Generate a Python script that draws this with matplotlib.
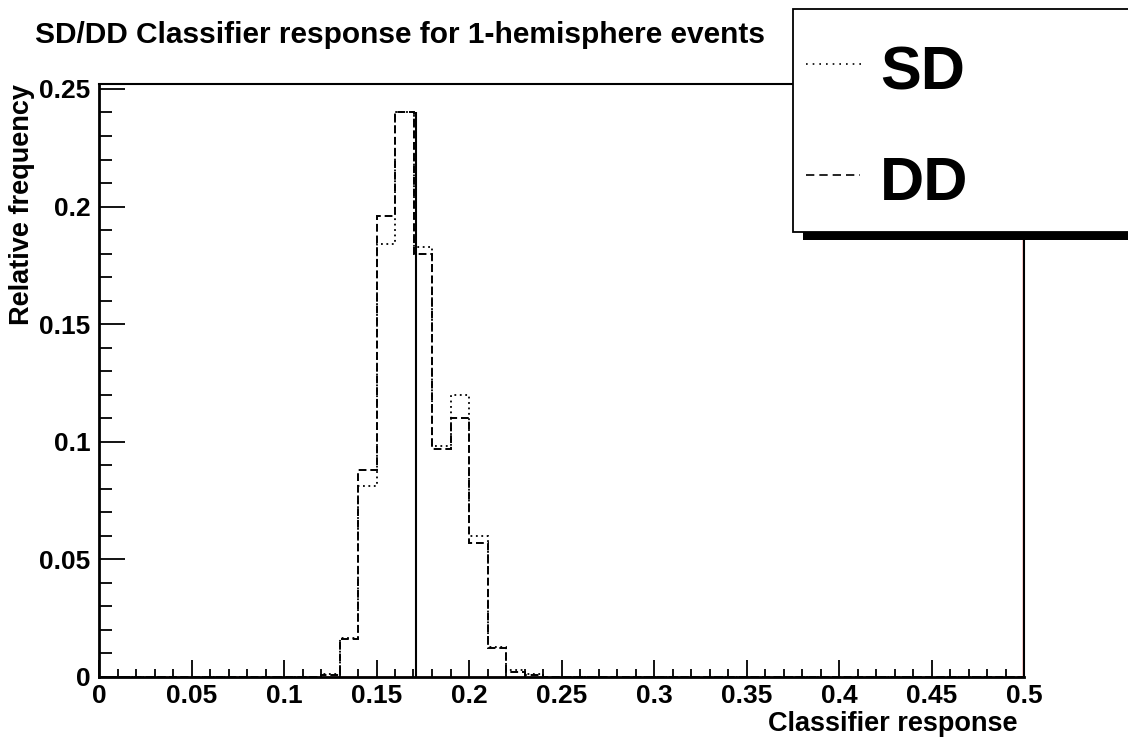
import numpy as np
import matplotlib
matplotlib.use("Agg")
import matplotlib.pyplot as plt
import matplotlib.transforms as mtransforms
from matplotlib.patches import Rectangle
from matplotlib.lines import Line2D
from matplotlib.ticker import MultipleLocator, FuncFormatter

plt.rcParams['font.family'] = ['Liberation Sans', 'DejaVu Sans']
plt.rcParams['font.weight'] = 'bold'

# histogram: 50 bins over [0, 0.5], only bins 0.12 .. 0.24 are filled
n_bins = 50
x_range = (0.0, 0.5)
first_bin = 12
sd_vals = [0.0012, 0.0166, 0.081, 0.184, 0.240, 0.183, 0.098, 0.120, 0.060, 0.0128, 0.0028, 0.0012]
dd_vals = [0.0008, 0.0160, 0.088, 0.196, 0.240, 0.180, 0.097, 0.110, 0.057, 0.0123, 0.0022, 0.0010]
cut_value = 0.1714
cut_height = 0.240
x_ticks = [0, 0.05, 0.1, 0.15, 0.2, 0.25, 0.3, 0.35, 0.4, 0.45, 0.5]
y_ticks = [0, 0.05, 0.1, 0.15, 0.2, 0.25]

edges = np.linspace(x_range[0], x_range[1], n_bins + 1)
sd = np.zeros(n_bins)
dd = np.zeros(n_bins)
sd[first_bin:first_bin + len(sd_vals)] = sd_vals
dd[first_bin:first_bin + len(dd_vals)] = dd_vals

fig = plt.figure(figsize=(11.28, 7.4), dpi=100)
ax = fig.add_axes([99/1128, 63/740, 925/1128, 593/740])

# red empty histogram frame (as in the original canvas)
ax.stairs(np.zeros(n_bins), edges, color='red', lw=1.0, zorder=1)
shift = mtransforms.offset_copy(ax.transData, fig=fig, x=-1.5, y=0, units='dots')
ax.plot([x_range[1], x_range[1]], [0, 0.2521], color='red', lw=1.0, transform=shift, zorder=1)

ax.stairs(sd, edges, color='black', lw=1.3, linestyle=(0, (1, 2)), zorder=3)
ax.stairs(dd, edges, color='black', lw=1.4, linestyle=(0, (4, 2)), zorder=3)
ax.vlines(cut_value, 0, cut_height, color='black', lw=1.5, zorder=4)

ax.set_xlim(*x_range)
ax.set_ylim(0, 0.2521)
ax.set_xticks(x_ticks)
ax.set_yticks(y_ticks)
ax.xaxis.set_minor_locator(MultipleLocator(0.01))
ax.yaxis.set_minor_locator(MultipleLocator(0.01))
fmt = FuncFormatter(lambda v, p: '%g' % v)
ax.xaxis.set_major_formatter(fmt)
ax.yaxis.set_major_formatter(fmt)

ax.tick_params(axis='x', which='major', direction='in', length=12, width=1.3, pad=5, labelsize=19)
ax.tick_params(axis='x', which='minor', direction='in', length=6, width=1.3)
ax.tick_params(axis='y', which='major', direction='in', length=19, width=1.3, pad=6, labelsize=19)
ax.tick_params(axis='y', which='minor', direction='in', length=9.5, width=1.3)
for s in ax.spines.values():
    s.set_linewidth(1.5)
ax.spines['bottom'].set_linewidth(2.0)
ax.spines['left'].set_linewidth(2.0)

ax.set_xlabel('Classifier response', fontsize=19.5, fontweight='bold', loc='right')
ax.xaxis.set_label_coords(0.993, -0.057)
ax.set_ylabel('Relative frequency', fontsize=19.5, fontweight='bold', loc='top')
ax.yaxis.set_label_coords(-0.069, 1.0)

fig.text(35/1128, 697/740, 'SD/DD Classifier response for 1-hemisphere events',
         fontsize=21.5, fontweight='bold', va='baseline', ha='left')

# legend box running off the right edge, ROOT style with shadow
fig.add_artist(Rectangle((803/1128, 500/740), 400/1128, 223/740, transform=fig.transFigure,
                         facecolor='black', edgecolor='none', zorder=5))
fig.add_artist(Rectangle((793/1128, 508/740), 400/1128, 223/740, transform=fig.transFigure,
                         facecolor='white', edgecolor='black', lw=1.3, zorder=6))
fig.add_artist(Line2D([806/1128, 863/1128], [676/740, 676/740], transform=fig.transFigure,
                      color='black', lw=1.2, linestyle=(0, (1, 3)), zorder=7))
fig.add_artist(Line2D([806/1128, 860/1128], [565/740, 565/740], transform=fig.transFigure,
                      color='black', lw=1.2, linestyle=(0, (5, 3)), zorder=7))
fig.text(880/1128, 650/740, 'SD', fontsize=44, fontweight='bold', va='baseline', zorder=8)
fig.text(880/1128, 540/740, 'DD', fontsize=44, fontweight='bold', va='baseline', zorder=8)

fig.savefig('out.png', dpi=100)
